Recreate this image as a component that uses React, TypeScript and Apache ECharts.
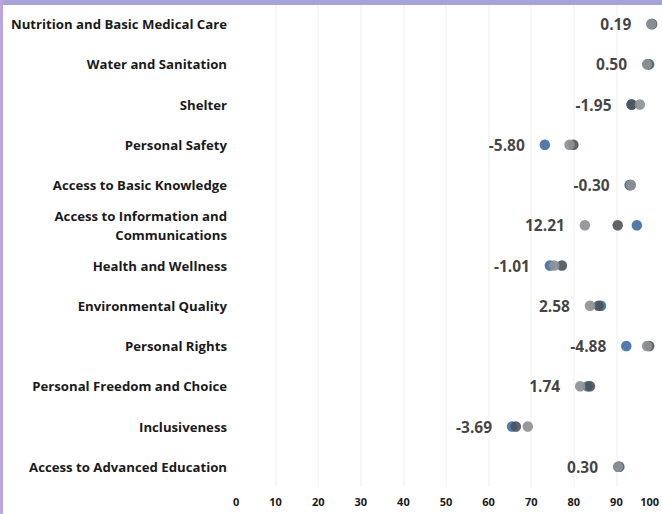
import React, { useEffect, useRef } from "react";
import * as echarts from "echarts";

const categories = [
  "Nutrition and Basic Medical Care",
  "Water and Sanitation",
  "Shelter",
  "Personal Safety",
  "Access to Basic Knowledge",
  "Access to Information and\nCommunications",
  "Health and Wellness",
  "Environmental Quality",
  "Personal Rights",
  "Personal Freedom and Choice",
  "Inclusiveness",
  "Access to Advanced Education",
];

// light grey dots (baseline)
const baseValues = [98.2, 97.2, 95.5, 79.0, 93.4, 82.6, 75.4, 83.8, 97.2, 81.5, 69.2, 90.4];
// dark grey dots
const midValues = [98.3, 97.4, 93.6, 79.9, 93.3, 90.3, 77.2, 85.8, 97.7, 83.8, 66.4, 90.5];
// blue dots (latest)
const latestValues = [98.39, 97.7, 93.55, 73.2, 93.1, 94.81, 74.39, 86.38, 92.32, 83.24, 65.51, 90.7];
// change labels
const changeLabels = ["0.19", "0.50", "-1.95", "-5.80", "-0.30", "12.21", "-1.01", "2.58", "-4.88", "1.74", "-3.69", "0.30"];

const xTicks = [0, 10, 20, 30, 40, 50, 60, 70, 80, 90, 100];

export default function App() {
  const ref = useRef<HTMLDivElement>(null);
  useEffect(() => {
    if (!ref.current) return;
    const chart = echarts.init(ref.current, null, { renderer: "svg" });
    const font = "'Open Sans', sans-serif";
    const mk = (vals: number[]) => vals.map((v, i) => [v, categories[i]]);
    const minData = categories.map((c, i) => ({
      value: [Math.min(baseValues[i], midValues[i], latestValues[i]), c],
      label: { formatter: changeLabels[i] },
    }));
    chart.setOption({
      animation: false,
      backgroundColor: "#ffffff",
      grid: { left: 233, right: 3, top: 4, bottom: 27, containLabel: false },
      xAxis: {
        type: "value",
        min: xTicks[0],
        max: xTicks[xTicks.length - 1],
        interval: 10,
        axisLine: { show: false },
        axisTick: { show: false },
        splitLine: { show: true, showMinLine: false, showMaxLine: false, lineStyle: { color: "#f5f5f5", width: 1.5 } },
        axisLabel: {
          color: "#1a1a1a",
          fontFamily: font,
          fontWeight: "bold",
          fontSize: 11,
          margin: 9,
          alignMinLabel: "left",
          alignMaxLabel: "right",
        },
      },
      yAxis: {
        type: "category",
        data: categories,
        inverse: true,
        axisLine: { show: false },
        axisTick: { show: false },
        splitLine: { show: false },
        axisLabel: {
          color: "#1a1a1a",
          fontFamily: font,
          fontWeight: "bold",
          fontSize: 13.2,
          lineHeight: 19,
          margin: 6,
          align: "right",
        },
      },
      series: [
        {
          type: "scatter",
          data: mk(latestValues),
          symbolSize: 10.5,
          itemStyle: { color: "#4674ab", opacity: 0.95 },
          z: 2,
        },
        {
          type: "scatter",
          data: mk(midValues),
          symbolSize: 10.5,
          itemStyle: { color: "#4d5359", opacity: 0.9 },
          z: 3,
        },
        {
          type: "scatter",
          data: mk(baseValues),
          symbolSize: 10.5,
          itemStyle: { color: "#8d9196", opacity: 0.92 },
          z: 4,
        },
        {
          type: "scatter",
          data: minData,
          symbolSize: 0,
          itemStyle: { color: "transparent" },
          silent: true,
          z: 5,
          label: {
            show: true,
            position: "left",
            distance: 20,
            color: "#111",
            fontFamily: font,
            fontWeight: "bold",
            fontSize: 15.5,
          },
        },
      ],
      graphic: [
        { type: "rect", left: 0, top: 0, shape: { width: 662, height: 5 }, style: { fill: "#a5a3da" }, z: 100 },
        { type: "rect", left: 0, top: 0, shape: { width: 3, height: 514 }, style: { fill: "#b9a6de" }, z: 100 },
      ],
    });
    return () => chart.dispose();
  }, []);
  return <div ref={ref} style={{ position: "fixed", left: 0, top: 0, width: 662, height: 514 }} />;
}
